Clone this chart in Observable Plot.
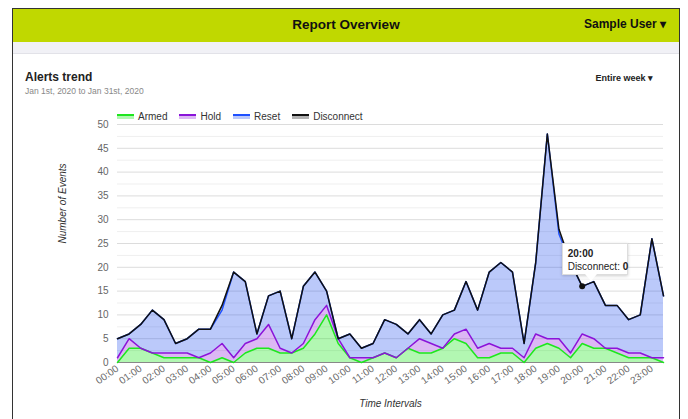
<!DOCTYPE html>
<html><head><meta charset="utf-8">
<script src="https://cdn.jsdelivr.net/npm/d3@7"></script>
<script src="https://cdn.jsdelivr.net/npm/@observablehq/plot@0.6"></script>
<style>
body{margin:0;width:688px;height:419px;overflow:hidden;background:#fff;font-family:"Liberation Sans",Arial,Helvetica,sans-serif;position:relative;color:#222}
.abs{position:absolute}
#frame{left:12px;top:8px;width:668px;height:430px;border:1.5px solid #333;border-bottom:none;box-sizing:border-box;z-index:5;pointer-events:none}
#header{left:13px;top:9px;width:666px;height:33px;background:#c0d800}
#strip{left:13px;top:42px;width:666px;height:11px;background:#f1f1f6;border-bottom:1px solid #e2e2e8}
#title{left:13px;width:666px;top:17px;text-align:center;font-weight:bold;font-size:13.5px;color:#111}
#user{right:22px;top:17px;font-weight:bold;font-size:12px;color:#111;white-space:nowrap}
#ctitle{left:25px;top:70px;font-weight:bold;font-size:12px;color:#222}
#csub{left:25px;top:86px;font-size:8.5px;color:#888}
#week{right:35px;top:73px;font-size:9px;color:#222;font-weight:bold;white-space:nowrap}
#legend{left:117px;top:111px;font-size:10px;color:#333;display:flex;align-items:center;white-space:nowrap}
#legend .it{display:flex;align-items:center;margin-right:12px}
#legend .sw{display:inline-block;width:17px;height:3px;border-top:2px solid;margin-right:4px}
#chart{left:0;top:100px}
#tip{background:#fff;border:1px solid #ddd;box-shadow:0 1px 3px rgba(0,0,0,0.2);font-size:10px;color:#222;padding:3px 5px;line-height:13px;white-space:nowrap;z-index:4;width:54px;height:24px}
#tip:after{content:"";position:absolute;left:22px;bottom:-7px;border-left:6px solid transparent;border-right:6px solid transparent;border-top:7px solid #fff}
</style></head>
<body>
<div class="abs" id="header"></div>
<div class="abs" id="strip"></div>
<div class="abs" id="frame"></div>
<div class="abs" id="title">Report Overview</div>
<div class="abs" id="user">Sample User ▾</div>
<div class="abs" id="ctitle">Alerts trend</div>
<div class="abs" id="csub">Jan 1st, 2020 to Jan 31st, 2020</div>
<div class="abs" id="week">Entire week ▾</div>
<div class="abs" id="legend"></div>
<div class="abs" id="chart"></div>
<script>
const times = ["00:00","00:30","01:00","01:30","02:00","02:30","03:00","03:30","04:00","04:30","05:00","05:30",
  "06:00","06:30","07:00","07:30","08:00","08:30","09:00","09:30","10:00","10:30","11:00","11:30",
  "12:00","12:30","13:00","13:30","14:00","14:30","15:00","15:30","16:00","16:30","17:00","17:30",
  "18:00","18:30","19:00","19:30","20:00","20:30","21:00","21:30","22:00","22:30","23:00","23:30"];
const xTickLabels = ["00:00","01:00","02:00","03:00","04:00","05:00","06:00","07:00","08:00","09:00","10:00","11:00",
  "12:00","13:00","14:00","15:00","16:00","17:00","18:00","19:00","20:00","21:00","22:00","23:00"];
const yTicks = [0,5,10,15,20,25,30,35,40,45,50];
const yGridMinor = [2.5,7.5,12.5,17.5,22.5,27.5,32.5,37.5,42.5,47.5];
const seriesNames = ["Armed","Hold","Reset","Disconnect"];
const lineColors = ["#1ee61e","#8a14d9","#1e50ff","#111111"];
const fillColors = ["#00e400","#8a14d9","#1e4cf0","#555555"];

const armed =      [0,3,3,2,1,1,1,1,0,1,0,2,3,3,2,2,3,6,10,4,1,0,1,2,1,3,2,2,3,5,4,1,1,2,2,0,3,4,3,1,4,3,3,2,1,1,1,0];
const hold =       [1,2,0,0,1,1,1,0,2,3,1,2,2,5,1,0,1,3,2,1,0,1,0,0,0,0,3,2,0,1,3,2,3,1,1,1,3,1,2,1,2,2,0,1,1,1,0,1];
const reset =      [4,1,5,9,7,2,3,6,5,7,18,13,1,6,12,3,12,10,3,0,5,2,3,7,7,3,4,2,7,5,10,8,15,18,16,3,15,43,22,19,10,12,9,9,7,8,25,13];
const disconnect = [0,0,0,0,0,0,0,0,0,1,0,0,0,0,0,0,0,0,0,0,0,0,0,0,0,0,0,0,0,0,0,0,0,0,0,0,0,0,1,0,0,0,0,0,0,0,0,0];

const tipTime = "20:00";
const tipSeries = "Disconnect";

const valuesBySeries = [armed, hold, reset, disconnect];
const data = [];
seriesNames.forEach((s, k) => times.forEach((t, i) => data.push({time: t, series: s, value: valuesBySeries[k][i]})));

const ti = times.indexOf(tipTime);
const tipTotal = armed[ti] + hold[ti] + reset[ti] + disconnect[ti];

// legend
const lg = document.getElementById("legend");
seriesNames.forEach((s, k) => {
  const it = document.createElement("div"); it.className = "it";
  const sw = document.createElement("span"); sw.className = "sw";
  sw.style.borderTopColor = lineColors[k];
  sw.style.background = d3.color(fillColors[k]).copy({opacity: k === 3 ? 0.45 : 0.3}).formatRgb();
  it.appendChild(sw);
  it.appendChild(document.createTextNode(s));
  lg.appendChild(it);
});

const chart = Plot.plot({
  width: 688, height: 319,
  marginLeft: 117, marginRight: 25, marginTop: 24, marginBottom: 57,
  style: {fontFamily: '"Liberation Sans", Arial, sans-serif', fontSize: "10px", color: "#666", background: "transparent"},
  x: {type: "point", domain: times, padding: 0, round: false, ticks: xTickLabels, tickRotate: -35, tickSize: 0, tickPadding: 5, label: null},
  y: {domain: [0, 50], ticks: yTicks, tickSize: 0, tickPadding: 9, label: null},
  color: {domain: seriesNames, range: fillColors},
  marks: [
    Plot.ruleY(yGridMinor, {stroke: "#efefef"}),
    Plot.ruleY(yTicks.filter(d => d > 0), {stroke: "#dcdcdc"}),
    Plot.areaY(data, {x: "time", y: "value", z: "series", fill: "series", fillOpacity: 0.3}),
    Plot.ruleY([0], {stroke: "#888"}),
    Plot.lineY(data, Plot.stackY2({x: "time", y: "value", z: "series", stroke: d => lineColors[seriesNames.indexOf(d.series)], strokeWidth: 1.5})),
    Plot.dot([{time: tipTime, total: tipTotal}], {x: "time", y: "total", r: 3, fill: "#111"}),
    Plot.text(["Number of Events"], {frameAnchor: "left", dx: -55, rotate: -90, fontStyle: "italic", fill: "#333", fontSize: 10}),
    Plot.text(["Time Intervals"], {frameAnchor: "bottom", dy: 44, fontStyle: "italic", fill: "#333", fontSize: 10})
  ]
});
document.getElementById("chart").appendChild(chart);

// tooltip positioned through the plot's scales
const px = chart.scale("x").apply(tipTime);
const py = chart.scale("y").apply(tipTotal);
const tip = document.createElement("div");
tip.className = "abs"; tip.id = "tip";
tip.style.left = (px - 20) + "px";
tip.style.top = (100 + py - 43) + "px";
tip.innerHTML = "<b>" + tipTime + "</b><br>" + tipSeries + ": <b>" + disconnect[ti] + "</b>";
document.body.appendChild(tip);
</script>
</body></html>
